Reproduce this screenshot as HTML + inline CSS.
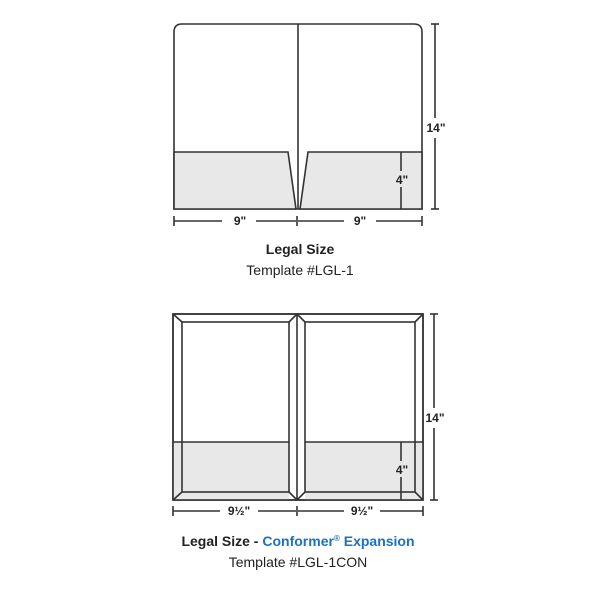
<!DOCTYPE html>
<html><head><meta charset="utf-8"><style>
html,body{margin:0;padding:0;background:#fff;}
svg{display:block;}
</style></head><body>
<svg width="600" height="600" viewBox="0 0 600 600" xmlns="http://www.w3.org/2000/svg" font-family="Liberation Sans, sans-serif">
<g stroke="#333" stroke-width="1.6" fill="none">
<!-- top folder -->
<path d="M174 209 V32 Q174 24 182 24 H414 Q422 24 422 32 V209 Z" fill="#fff"/>
<path d="M174 152 H288 L296 209 H174 Z" fill="#e8e8e8"/>
<path d="M308 152 H422 V209 H300 Z" fill="#e8e8e8"/>
<line x1="298" y1="24" x2="298" y2="209"/>
<line x1="401" y1="152" x2="401" y2="171"/><line x1="401" y1="187" x2="401" y2="209"/>
<!-- top dims -->
<line x1="435" y1="24" x2="435" y2="118"/><line x1="435" y1="138" x2="435" y2="209"/>
<line x1="431" y1="24" x2="439" y2="24"/><line x1="431" y1="209" x2="439" y2="209"/>
<line x1="174" y1="221" x2="222" y2="221"/><line x1="256" y1="221" x2="296" y2="221"/>
<line x1="298" y1="221" x2="344" y2="221"/><line x1="376" y1="221" x2="422" y2="221"/>
<line x1="174" y1="216" x2="174" y2="226"/><line x1="297" y1="216" x2="297" y2="226"/><line x1="422" y1="216" x2="422" y2="226"/>
<!-- bottom folder -->
<rect x="173" y="314" width="250" height="186" fill="#fff"/>
<rect x="173" y="442" width="116" height="58" fill="#e8e8e8" stroke="none"/>
<rect x="305" y="442" width="118" height="58" fill="#e8e8e8" stroke="none"/>
<rect x="173" y="314" width="250" height="186"/>
<rect x="182" y="322" width="107" height="170"/>
<rect x="305" y="322" width="110" height="170"/>
<line x1="297" y1="314" x2="297" y2="500"/>
<line x1="173" y1="314" x2="182" y2="322"/><line x1="173" y1="500" x2="182" y2="492"/>
<line x1="423" y1="314" x2="415" y2="322"/><line x1="423" y1="500" x2="415" y2="492"/>
<path d="M289 322 L297 314 L305 322"/><path d="M289 492 L297 500 L305 492"/>
<line x1="173" y1="442" x2="289" y2="442"/><line x1="305" y1="442" x2="423" y2="442"/>
<line x1="401" y1="442" x2="401" y2="461"/><line x1="401" y1="477" x2="401" y2="500"/>
<!-- bottom dims -->
<line x1="434" y1="314" x2="434" y2="408"/><line x1="434" y1="428" x2="434" y2="500"/>
<line x1="430" y1="314" x2="438" y2="314"/><line x1="430" y1="500" x2="438" y2="500"/>
<line x1="173" y1="511" x2="220" y2="511"/><line x1="258" y1="511" x2="296" y2="511"/>
<line x1="298" y1="511" x2="344" y2="511"/><line x1="380" y1="511" x2="423" y2="511"/>
<line x1="173" y1="506" x2="173" y2="516"/><line x1="297" y1="506" x2="297" y2="516"/><line x1="423" y1="506" x2="423" y2="516"/>
</g>
<g fill="#222" font-weight="bold" font-size="12" text-anchor="middle">
<text x="436" y="132">14"</text>
<text x="240" y="225">9"</text>
<text x="360" y="225">9"</text>
<text x="402" y="184">4"</text>
<text x="435" y="422">14"</text>
<text x="239" y="515">9½"</text>
<text x="362" y="515">9½"</text>
<text x="402" y="474">4"</text>
</g>
<g text-anchor="middle" font-size="14" fill="#222">
<text x="300" y="254" font-weight="bold">Legal Size</text>
<text x="300" y="275">Template #LGL-1</text>
<text x="298" y="546" font-weight="bold">Legal Size - <tspan fill="#1a72c4">Conformer<tspan font-size="8" dy="-5">®</tspan><tspan dy="5"> Expansion</tspan></tspan></text>
<text x="298" y="567">Template #LGL-1CON</text>
</g>
</svg>
</body></html>
